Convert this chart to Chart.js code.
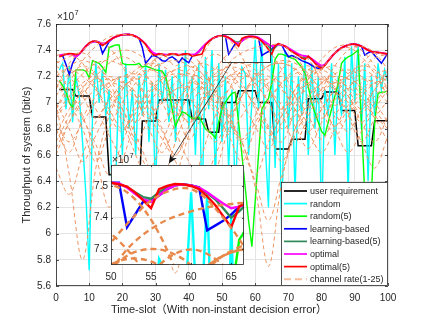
<!DOCTYPE html>
<html>
<head>
<meta charset="utf-8">
<script src="https://cdn.jsdelivr.net/npm/chart.js@4.4.0/dist/chart.umd.min.js"></script>
<style>
  html, body { margin: 0; padding: 0; background: #fff; }
  #wrap { position: relative; width: 429px; height: 322px; overflow: hidden; }
  #main { position: absolute; left: 0; top: 0; width: 429px; height: 322px; }
  #inset { position: absolute; left: 86px; top: 150px; width: 162px; height: 135px; }
</style>
</head>
<body>
<div id="wrap">
  <canvas id="main" width="429" height="322"></canvas>
  <canvas id="inset" width="162" height="135"></canvas>
</div>
<script>
// ---- dati (slot 1..100) ----
const slots = Array.from({ length: 100 }, (_, i) => i + 1);

const userRequirement = [
  7.10, 7.10, 7.10, 7.10, 7.10, 7.05, 7.05, 7.05, 7.05, 7.05,
  6.89, 6.89, 6.89, 6.89, 6.89, 6.45, 6.45, 6.45, 6.45, 6.45,
  6.30, 6.30, 6.30, 6.30, 6.30, 6.86, 6.86, 6.86, 6.86, 6.86,
  7.02, 7.02, 7.02, 7.02, 7.02, 7.02, 7.02, 7.02, 7.02, 7.02,
  6.875, 6.875, 6.875, 6.875, 6.875, 6.773, 6.773, 6.773, 6.773, 7.00,
  7.00, 7.00, 7.00, 7.00, 7.09, 7.09, 7.09, 7.09, 7.09, 7.09,
  7.00, 7.00, 7.00, 7.00, 7.00, 6.646, 6.646, 6.646, 6.646, 6.646,
  6.72, 6.72, 6.72, 6.72, 6.72, 7.03, 7.03, 7.03, 7.03, 7.03,
  7.08, 7.08, 7.08, 7.08, 7.08, 6.94, 6.94, 6.94, 6.94, 6.94,
  6.67, 6.67, 6.67, 6.67, 6.67, 6.862, 6.862, 6.862, 6.862, 6.862
];

const random = [
  7.25, 7.30, 6.95, 7.28, 6.85, 7.20, 7.05, 6.70, 6.30, 5.72,
  6.90, 7.30, 7.00, 7.25, 6.90, 7.10, 6.20, 6.40, 7.20, 6.60,
  7.30, 6.80, 7.10, 6.60, 7.20, 6.90, 7.30, 6.70, 7.15, 6.30,
  7.30, 7.00, 7.25, 6.85, 7.20, 6.70, 7.30, 6.90, 7.40, 6.80,
  7.20, 6.60, 7.30, 6.20, 7.35, 6.95, 7.40, 6.40, 7.30, 6.70,
  7.20, 6.50, 7.10, 6.30, 6.90, 7.27, 7.22, 6.60, 7.00, 7.48,
  6.95, 7.47, 6.70, 6.20, 7.40, 6.50, 7.30, 6.00, 7.40, 6.80,
  7.30, 6.30, 7.20, 6.90, 7.35, 6.60, 7.30, 6.80, 7.20, 6.10,
  7.10, 6.90, 7.30, 6.60, 7.20, 6.90, 7.35, 6.30, 7.43, 7.00,
  7.45, 6.80, 7.30, 6.40, 7.20, 6.90, 7.30, 7.10, 7.25, 7.15
];

const random5 = [
  7.17, 7.13, 7.08, 7.00, 6.96, 7.25, 7.25, 7.25, 7.24, 7.19,
  7.32, 7.31, 7.30, 7.27, 7.23, 7.42, 7.43, 7.44, 7.44, 7.30,
  7.29, 7.29, 7.29, 7.29, 7.30, 7.27, 7.28, 7.27, 7.26, 7.25,
  7.245, 7.24, 7.20, 7.10, 6.95, 6.82, 6.88, 6.93, 6.92, 6.90,
  6.88, 6.88, 6.89, 6.85, 6.80, 6.78, 6.76, 6.73, 6.85, 6.95,
  7.00, 7.04, 7.07, 7.08, 6.85, 6.60, 6.35, 6.10, 5.90, 6.25,
  6.60, 6.95, 7.00, 7.03, 7.15, 7.33, 7.37, 7.37, 7.36, 7.35,
  7.34, 7.33, 7.30, 7.27, 7.22, 7.12, 7.00, 6.92, 6.85, 6.78,
  6.75, 6.85, 6.95, 7.05, 7.15, 7.30, 7.33, 7.35, 7.36, 7.38,
  7.40, 6.85, 6.30, 5.70, 6.30, 6.85, 7.07, 7.08, 7.08, 7.09
];

const learningBased = [
  7.36, 7.36, 7.29, 7.215, 7.30, 7.35, 7.37, 7.40, 7.43, 7.45,
  7.465, 7.468, 7.46, 7.375, 7.42, 7.465, 7.49, 7.503, 7.512, 7.518,
  7.52, 7.52, 7.515, 7.505, 7.49, 7.42, 7.30, 7.33, 7.36, 7.355,
  7.34, 7.32, 7.316, 7.34, 7.35, 7.33, 7.305, 7.342, 7.32, 7.304,
  7.354, 7.365, 7.39, 7.42, 7.445, 7.468, 7.487, 7.50, 7.508, 7.51,
  7.51, 7.37, 7.41, 7.45, 7.455, 7.47, 7.49, 7.502, 7.505, 7.502,
  7.495, 7.36, 7.375, 7.39, 7.41, 7.435, 7.445, 7.44, 7.39, 7.35,
  7.36, 7.35, 7.335, 7.32, 7.31, 7.30, 7.285, 7.27, 7.26, 7.27,
  7.29, 7.32, 7.35, 7.378, 7.40, 7.418, 7.43, 7.44, 7.445, 7.446,
  7.44, 7.43, 7.362, 7.38, 7.39, 7.36, 7.33, 7.30, 7.34, 7.38
];

const learningBased5 = [
  7.355, 7.362, 7.37, 7.372, 7.368, 7.36, 7.372, 7.40, 7.43, 7.452,
  7.466, 7.468, 7.458, 7.44, 7.453, 7.47, 7.49, 7.503, 7.512, 7.518,
  7.52, 7.52, 7.515, 7.505, 7.49, 7.47, 7.445, 7.41, 7.375, 7.365,
  7.37, 7.368, 7.36, 7.366, 7.37, 7.368, 7.362, 7.366, 7.37, 7.368,
  7.36, 7.365, 7.385, 7.415, 7.442, 7.466, 7.486, 7.50, 7.508, 7.51,
  7.507, 7.496, 7.48, 7.465, 7.46, 7.48, 7.495, 7.503, 7.505, 7.502,
  7.494, 7.478, 7.458, 7.43, 7.40, 7.42, 7.445, 7.44, 7.43, 7.413,
  7.398, 7.382, 7.365, 7.35, 7.345, 7.345, 7.33, 7.31, 7.29, 7.27,
  7.288, 7.32, 7.35, 7.378, 7.40, 7.418, 7.43, 7.44, 7.445, 7.446,
  7.44, 7.43, 7.415, 7.40, 7.39, 7.385, 7.382, 7.378, 7.375, 7.37
];

const optimal = [
  7.36, 7.365, 7.37, 7.37, 7.365, 7.35, 7.37, 7.40, 7.43, 7.45,
  7.465, 7.468, 7.46, 7.45, 7.455, 7.47, 7.49, 7.503, 7.512, 7.518,
  7.52, 7.52, 7.515, 7.505, 7.49, 7.47, 7.445, 7.415, 7.385, 7.37,
  7.372, 7.37, 7.365, 7.368, 7.372, 7.37, 7.365, 7.368, 7.372, 7.37,
  7.365, 7.37, 7.39, 7.42, 7.445, 7.468, 7.487, 7.50, 7.508, 7.51,
  7.508, 7.495, 7.475, 7.458, 7.45, 7.47, 7.49, 7.502, 7.505, 7.502,
  7.495, 7.48, 7.462, 7.445, 7.43, 7.435, 7.445, 7.44, 7.43, 7.415,
  7.40, 7.385, 7.37, 7.36, 7.355, 7.35, 7.335, 7.315, 7.295, 7.28,
  7.29, 7.32, 7.35, 7.378, 7.40, 7.418, 7.43, 7.44, 7.445, 7.446,
  7.44, 7.43, 7.415, 7.40, 7.39, 7.385, 7.382, 7.378, 7.375, 7.37
];

const optimal5 = [
  7.35, 7.36, 7.37, 7.375, 7.372, 7.368, 7.375, 7.40, 7.43, 7.455,
  7.468, 7.468, 7.455, 7.435, 7.452, 7.475, 7.49, 7.503, 7.512, 7.518,
  7.52, 7.52, 7.515, 7.505, 7.49, 7.47, 7.445, 7.40, 7.37, 7.36,
  7.372, 7.37, 7.355, 7.368, 7.372, 7.37, 7.36, 7.368, 7.372, 7.37,
  7.355, 7.36, 7.365, 7.37, 7.44, 7.465, 7.487, 7.50, 7.508, 7.51,
  7.505, 7.498, 7.48, 7.455, 7.43, 7.49, 7.50, 7.506, 7.505, 7.50,
  7.49, 7.467, 7.44, 7.405, 7.37, 7.435, 7.45, 7.44, 7.43, 7.41,
  7.39, 7.375, 7.36, 7.34, 7.33, 7.355, 7.33, 7.30, 7.275, 7.26,
  7.285, 7.32, 7.35, 7.378, 7.40, 7.418, 7.43, 7.44, 7.445, 7.446,
  7.44, 7.43, 7.415, 7.40, 7.39, 7.385, 7.382, 7.378, 7.375, 7.37
];

// channel rate 1-25: campionati ogni 4 slot
const channelSlots = [0, 4, 8, 12, 16, 20, 24, 28, 32, 36, 40, 44, 48, 52, 56, 60, 64, 68, 72, 76, 80, 84, 88, 92, 96, 100];
const ch1  = [6.95, 7.15, 7.32, 7.43, 7.50, 7.52, 7.50, 7.40, 7.22, 7.00, 6.85, 7.05, 7.25, 7.38, 7.47, 7.49, 7.40, 7.25, 7.05, 6.85, 6.95, 7.10, 7.22, 7.28, 7.25, 7.15];
const ch2  = [7.10, 7.30, 7.40, 7.47, 7.42, 7.28, 7.05, 6.80, 6.62, 6.85, 7.10, 7.35, 7.50, 7.48, 7.35, 7.10, 6.82, 6.70, 6.95, 7.18, 7.33, 7.42, 7.44, 7.40, 7.28, 7.10];
const ch3  = [7.36, 7.37, 7.30, 7.12, 6.90, 6.78, 7.00, 7.25, 7.37, 7.28, 7.37, 7.28, 7.08, 6.88, 6.72, 6.90, 7.10, 7.25, 7.35, 7.33, 7.15, 6.98, 7.10, 7.25, 7.34, 7.37];
const ch4  = [6.80, 6.62, 6.88, 7.05, 7.15, 7.20, 7.15, 7.00, 6.80, 6.60, 6.82, 7.00, 7.15, 7.30, 7.38, 7.42, 7.44, 7.44, 7.36, 7.20, 7.00, 6.80, 6.62, 6.78, 6.95, 7.10];
const ch5  = [7.00, 6.45, 5.80, 6.50, 6.90, 7.10, 7.20, 7.25, 7.20, 7.05, 6.85, 6.95, 7.10, 7.20, 7.22, 7.15, 7.00, 6.80, 6.90, 7.05, 7.15, 7.20, 7.18, 7.05, 6.90, 6.80];
const ch6  = [7.20, 7.25, 7.20, 7.10, 6.95, 6.80, 6.95, 7.10, 7.20, 7.25, 7.22, 7.10, 6.95, 6.85, 6.70, 6.35, 5.75, 6.40, 6.80, 7.00, 7.15, 7.22, 7.25, 7.20, 7.10, 7.00];
const ch7  = [7.30, 7.35, 7.38, 7.30, 7.15, 6.95, 6.70, 6.50, 6.70, 6.95, 7.15, 7.30, 7.37, 7.30, 7.15, 6.95, 6.75, 6.90, 7.10, 7.25, 7.28, 7.22, 7.10, 6.95, 7.10, 7.25];
const ch8  = [6.60, 6.85, 7.05, 7.20, 7.30, 7.35, 7.30, 7.18, 7.00, 6.78, 6.55, 6.40, 6.60, 6.85, 7.05, 7.20, 7.28, 7.30, 7.25, 7.12, 6.95, 6.75, 6.90, 7.05, 7.15, 7.20];
const ch9  = [7.25, 7.10, 6.90, 6.60, 6.20, 6.55, 6.85, 7.05, 7.18, 7.25, 7.28, 7.22, 7.10, 6.92, 6.70, 6.85, 7.02, 7.15, 7.22, 7.25, 7.20, 7.08, 6.90, 6.70, 6.88, 7.02];
const ch10 = [6.90, 7.05, 7.15, 7.20, 7.10, 6.95, 6.75, 6.50, 6.10, 5.70, 6.20, 6.60, 6.90, 7.10, 7.25, 7.30, 7.25, 7.12, 6.95, 6.78, 6.95, 7.10, 7.20, 7.25, 7.20, 7.10];
const ch11 = [7.15, 7.00, 6.80, 6.55, 6.80, 7.00, 7.15, 7.25, 7.30, 7.32, 7.28, 7.15, 6.98, 6.78, 6.90, 7.05, 7.15, 7.20, 7.15, 7.05, 6.88, 7.05, 7.20, 7.30, 7.38, 7.35];
const ch12 = [6.70, 6.90, 7.10, 7.25, 7.35, 7.40, 7.38, 7.30, 7.15, 6.95, 6.72, 6.90, 7.08, 7.20, 7.25, 7.22, 7.10, 6.92, 6.70, 6.90, 7.10, 7.28, 7.40, 7.43, 7.38, 7.25];
const ch13 = [7.05, 7.20, 7.28, 7.22, 7.05, 6.85, 6.60, 6.35, 6.00, 6.40, 6.75, 7.00, 7.18, 7.28, 7.30, 7.25, 7.12, 6.95, 7.10, 7.22, 7.25, 7.18, 7.05, 6.85, 6.70, 6.90];
const ch14 = [6.85, 6.70, 6.85, 7.00, 7.12, 7.20, 7.22, 7.18, 7.08, 7.15, 7.25, 7.30, 7.25, 7.15, 7.00, 6.82, 6.65, 6.85, 7.05, 7.18, 7.25, 7.28, 7.22, 7.10, 6.95, 6.80];
const ch15 = [7.20, 7.28, 7.32, 7.28, 7.18, 7.02, 6.85, 7.00, 7.12, 7.20, 7.22, 7.18, 7.05, 6.90, 7.05, 7.18, 7.28, 7.32, 7.30, 7.22, 7.08, 6.92, 6.78, 6.95, 7.10, 7.20];
const ch16 = [6.50, 6.30, 6.60, 6.85, 7.02, 7.12, 7.18, 7.15, 7.05, 6.90, 7.05, 7.15, 7.20, 7.18, 7.10, 6.98, 6.80, 6.55, 6.80, 6.98, 7.10, 7.15, 7.12, 7.02, 6.88, 6.70];
const ch17 = [7.32, 7.25, 7.12, 6.95, 6.75, 6.55, 6.30, 5.90, 6.35, 6.70, 6.95, 7.12, 7.22, 7.27, 7.25, 7.15, 7.00, 6.85, 7.00, 7.12, 7.18, 7.15, 7.05, 6.92, 7.05, 7.15];
const ch18 = [6.95, 7.10, 7.22, 7.30, 7.32, 7.28, 7.18, 7.02, 6.85, 7.00, 7.12, 7.20, 7.25, 7.22, 7.12, 6.98, 6.80, 6.95, 7.10, 7.20, 7.26, 7.38, 7.42, 7.35, 7.22, 7.05];
const ch19 = [7.00, 6.80, 6.55, 6.75, 6.95, 7.10, 7.22, 7.30, 7.35, 7.37, 7.33, 7.22, 7.08, 6.90, 6.70, 6.45, 6.70, 6.90, 7.05, 7.15, 7.18, 7.12, 7.00, 6.85, 7.00, 7.12];
const ch20 = [7.12, 7.22, 7.25, 7.20, 7.08, 6.90, 6.70, 6.88, 7.02, 7.10, 7.12, 7.05, 6.92, 6.75, 6.55, 6.80, 7.00, 7.15, 7.25, 7.28, 7.22, 7.10, 6.92, 6.70, 6.50, 6.75];
const ch21 = [6.75, 6.95, 7.08, 7.15, 7.18, 7.15, 7.05, 6.90, 6.72, 6.55, 6.35, 6.10, 6.45, 6.80, 7.05, 7.20, 7.28, 7.30, 7.26, 7.15, 7.00, 6.82, 6.95, 7.08, 7.15, 7.18];
const ch22 = [7.28, 7.20, 7.05, 6.88, 7.02, 7.15, 7.25, 7.30, 7.28, 7.20, 7.05, 6.88, 6.70, 6.90, 7.06, 7.15, 7.18, 7.15, 7.05, 6.90, 6.72, 6.90, 7.05, 7.15, 7.22, 7.25];
const ch23 = [6.65, 6.85, 7.00, 7.10, 7.15, 7.12, 7.02, 6.88, 7.00, 7.10, 7.15, 7.12, 7.02, 6.85, 6.65, 6.40, 6.10, 6.45, 6.75, 6.95, 7.08, 7.15, 7.18, 7.12, 7.00, 6.85];
const ch24 = [7.18, 7.05, 6.88, 6.68, 6.45, 6.70, 6.92, 7.08, 7.18, 7.22, 7.20, 7.12, 7.00, 7.10, 7.18, 7.22, 7.20, 7.10, 6.95, 6.78, 6.62, 6.80, 6.98, 7.10, 7.18, 7.22];
const ch25 = [6.88, 7.02, 7.12, 7.18, 7.20, 7.16, 7.08, 6.95, 6.78, 6.60, 6.78, 6.95, 7.08, 7.16, 7.20, 7.18, 7.10, 6.98, 6.82, 6.65, 6.85, 7.02, 7.12, 7.18, 7.15, 7.08];
const channelRates = [ch1, ch2, ch3, ch4, ch5, ch6, ch7, ch8, ch9, ch10, ch11, ch12, ch13,
                      ch14, ch15, ch16, ch17, ch18, ch19, ch20, ch21, ch22, ch23, ch24, ch25];

const seriesLabels = ['user requirement', 'random', 'random(5)', 'learning-based',
                      'learning-based(5)', 'optimal', 'optimal(5)'];
const seriesColors = ['#000000', '#00ffff', '#00ff00', '#0000ff', '#2e8b57', '#ff00ff', '#ff0000'];
const seriesWidths = [1.5, 1.4, 1.4, 1.5, 1.6, 2.0, 1.6];
const seriesData = [userRequirement, random, random5, learningBased, learningBased5, optimal, optimal5];
const channelLabel = 'channel rate(1-25)';

const xTitle = 'Time-slot（With non-instant decision error）';
const yTitle = 'Throughput of system (bit/s)';

// ---- stile ----
const FONT = '"Liberation Sans", Arial, "Noto Sans CJK SC", sans-serif';
const AXIS = '#262626';
const GRID = '#e4e4e4';
Chart.defaults.font.family = FONT;
Chart.defaults.color = AXIS;

function toPoints(xs, ys) {
    return ys.map((y, i) => ({ x: xs[i], y: y }));
}

function buildDatasets(inset) {
    const out = [];
    // ordine MATLAB: la prima serie sotto, channel rate sopra tutto
    for (let i = 0; i < seriesData.length; i++) {
        out.push({
            label: seriesLabels[i],
            data: toPoints(slots, seriesData[i]),
            borderColor: seriesColors[i],
            borderWidth: inset ? 2.4 : seriesWidths[i],
            pointRadius: 0,
            tension: 0,
            order: 20 - i
        });
    }
    for (let c = 0; c < channelRates.length; c++) {
        out.push({
            label: c === 0 ? channelLabel : '',
            data: toPoints(channelSlots, channelRates[c]),
            borderColor: inset ? '#e8894c' : '#ee9462',
            borderWidth: inset ? 2.4 : 1,
            borderDash: inset ? [6, 4] : [4, 3],
            pointRadius: 0,
            tension: 0.35,
            order: 1
        });
    }
    return out;
}

const fmt = (v) => String(Number(v.toFixed(2)));

function drawBoxAndTicks(chart, len) {
    const { ctx, chartArea: a, scales: { x, y } } = chart;
    ctx.strokeStyle = AXIS;
    ctx.lineWidth = 0.8;
    ctx.strokeRect(a.left + 0.5, a.top + 0.5, a.right - a.left - 1, a.bottom - a.top - 1);
    ctx.beginPath();
    x.ticks.forEach(t => {
        const px = Math.round(x.getPixelForValue(t.value)) + 0.5;
        ctx.moveTo(px, a.bottom); ctx.lineTo(px, a.bottom - len);
        ctx.moveTo(px, a.top); ctx.lineTo(px, a.top + len);
    });
    y.ticks.forEach(t => {
        const py = Math.round(y.getPixelForValue(t.value)) + 0.5;
        ctx.moveTo(a.left, py); ctx.lineTo(a.left + len, py);
        ctx.moveTo(a.right, py); ctx.lineTo(a.right - len, py);
    });
    ctx.stroke();
}

function drawExponent(ctx, x, y) {
    ctx.fillStyle = AXIS;
    ctx.textAlign = 'left';
    ctx.textBaseline = 'alphabetic';
    ctx.font = '10px ' + FONT;
    ctx.fillText('×10', x, y);
    const w = ctx.measureText('×10').width;
    ctx.font = '7.5px ' + FONT;
    ctx.fillText('7', x + w + 0.5, y - 5);
}

const mainDecor = {
    id: 'mainDecor',
    afterDraw(chart) {
        const { ctx, chartArea: a, scales: { x, y } } = chart;
        ctx.save();
        drawBoxAndTicks(chart, 3);
        drawExponent(ctx, a.left + 1, a.top - 4);

        // titoli assi
        ctx.fillStyle = AXIS;
        ctx.font = '11px ' + FONT;
        ctx.textAlign = 'center';
        ctx.textBaseline = 'alphabetic';
        ctx.fillText(xTitle, (a.left + a.right) / 2 - 3, 313);
        ctx.save();
        ctx.translate(27, (a.top + a.bottom) / 2);
        ctx.rotate(-Math.PI / 2);
        ctx.textBaseline = 'middle';
        ctx.fillText(yTitle, 0, 0);
        ctx.restore();

        // rettangolo dello zoom
        const rx0 = x.getPixelForValue(50), rx1 = x.getPixelForValue(64.5);
        const ry0 = y.getPixelForValue(7.525), ry1 = y.getPixelForValue(7.31);
        ctx.strokeStyle = '#3c3c3c';
        ctx.lineWidth = 1;
        ctx.strokeRect(Math.round(rx0) + 0.5, Math.round(ry0) + 0.5, Math.round(rx1 - rx0), Math.round(ry1 - ry0));

        // freccia verso l'inset
        const ax0 = x.getPixelForValue(53.0), ay0 = y.getPixelForValue(7.31);
        const ax1 = x.getPixelForValue(34.0), ay1 = y.getPixelForValue(6.535);
        ctx.strokeStyle = '#1a1a1a';
        ctx.lineWidth = 0.75;
        ctx.beginPath(); ctx.moveTo(ax0, ay0); ctx.lineTo(ax1, ay1); ctx.stroke();
        const ang = Math.atan2(ay1 - ay0, ax1 - ax0);
        const hl = 9, hw = 3.8;
        ctx.fillStyle = '#111';
        ctx.beginPath();
        ctx.moveTo(ax1, ay1);
        ctx.lineTo(ax1 - hl * Math.cos(ang) + hw * Math.sin(ang), ay1 - hl * Math.sin(ang) - hw * Math.cos(ang));
        ctx.lineTo(ax1 - hl * 0.7 * Math.cos(ang), ay1 - hl * 0.7 * Math.sin(ang));
        ctx.lineTo(ax1 - hl * Math.cos(ang) - hw * Math.sin(ang), ay1 - hl * Math.sin(ang) + hw * Math.cos(ang));
        ctx.closePath();
        ctx.fill();

        // legenda
        const lx0 = 281, ly0 = 182, lx1 = a.right, ly1 = a.bottom;
        ctx.fillStyle = '#fff';
        ctx.fillRect(lx0, ly0, lx1 - lx0, ly1 - ly0);
        ctx.strokeStyle = AXIS;
        ctx.lineWidth = 0.8;
        ctx.strokeRect(lx0 + 0.5, ly0 + 0.5, lx1 - lx0 - 1, ly1 - ly0 - 1);
        const labels = seriesLabels.concat([channelLabel]);
        ctx.font = '9px ' + FONT;
        ctx.textAlign = 'left';
        ctx.textBaseline = 'middle';
        for (let i = 0; i < labels.length; i++) {
            const yy = 191 + i * 12.6;
            ctx.beginPath();
            if (i < seriesColors.length) {
                ctx.strokeStyle = seriesColors[i];
                ctx.lineWidth = 1.7;
                ctx.setLineDash([]);
            } else {
                ctx.strokeStyle = '#f6bf9e';
                ctx.lineWidth = 2;
                ctx.setLineDash([7, 4]);
            }
            ctx.moveTo(284, yy); ctx.lineTo(307, yy);
            ctx.stroke();
            ctx.setLineDash([]);
            ctx.fillStyle = AXIS;
            ctx.fillText(labels[i], 310, yy + 0.5);
        }
        ctx.restore();
    }
};

const insetDecor = {
    id: 'insetDecor',
    beforeDraw(chart) {
        const { ctx, chartArea: a } = chart;
        ctx.save();
        ctx.fillStyle = '#fff';
        ctx.fillRect(a.left, a.top, a.right - a.left, a.bottom - a.top);
        ctx.restore();
    },
    afterDraw(chart) {
        const { ctx, chartArea: a } = chart;
        ctx.save();
        drawBoxAndTicks(chart, 2);
        drawExponent(ctx, a.left + 1, a.top - 2);
        ctx.restore();
    }
};

function axisOpts(min, max, step, fit, isX, pad) {
    return {
        type: 'linear',
        min: min, max: max,
        border: { display: false },
        grid: { color: GRID, lineWidth: 1, drawTicks: false },
        ticks: { stepSize: step, includeBounds: false, padding: pad, font: { size: 10 }, color: AXIS,
                 maxRotation: 0, autoSkip: false, callback: fmt },
        afterFit: (s) => { if (isX) s.height = fit; else s.width = fit; }
    };
}

new Chart(document.getElementById('main'), {
    type: 'line',
    data: { datasets: buildDatasets(false) },
    options: {
        responsive: false,
        animation: false,
        events: [],
        layout: { padding: { top: 24, right: 41, left: 0, bottom: 0 } },
        plugins: { legend: { display: false }, tooltip: { enabled: false } },
        scales: {
            x: axisOpts(0, 100, 10, 36, true, 6),
            y: axisOpts(5.6, 7.6, 0.2, 56, false, 5)
        }
    },
    plugins: [mainDecor]
});

new Chart(document.getElementById('inset'), {
    type: 'line',
    data: { datasets: buildDatasets(true) },
    options: {
        responsive: false,
        animation: false,
        events: [],
        layout: { padding: { top: 15, right: 4, left: 0, bottom: 0 } },
        plugins: { legend: { display: false }, tooltip: { enabled: false } },
        scales: {
            x: axisOpts(50, 66.6, 5, 20, true, 6),
            y: axisOpts(7.251, 7.566, 0.1, 25, false, 3)
        }
    },
    plugins: [insetDecor]
});
</script>
</body>
</html>
